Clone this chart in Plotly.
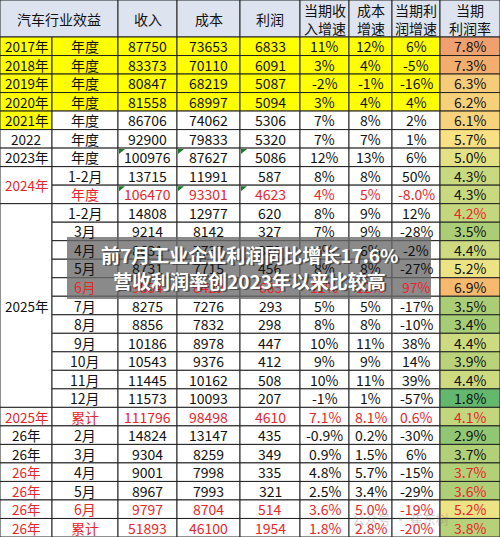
import plotly.graph_objects as go

headers = ["汽车行业效益", "收入", "成本", "利润", "当期收<br>入增速", "成本<br>增速", "当期利<br>润增速", "当期<br>利润率"]
year_labels = ["2017年", "2018年", "2019年", "2020年", "2021年", "2022", "2023年",
               "2024年", None, "2025年"] + [None]*10 + ["2025年", "26年", "26年", "26年", "26年", "26年", "26年"]
periods = ["年度"]*7 + ["1-2月", "年度", "1-2月", "3月", "4月", "5月", "6月", "7月", "8月", "9月", "10月", "11月", "12月",
           "累计", "2月", "3月", "4月", "5月", "6月", "累计"]
revenue = [87750, 83373, 80847, 81558, 86706, 92900, 100976, 13715, 106470, 14808, 9214, 8631, 8731, 9634,
           8275, 8856, 10186, 10543, 11445, 11573, 111796, 14824, 9304, 9001, 8967, 9797, 51893]
cost = [73653, 70110, 68219, 68997, 74062, 79833, 87627, 11991, 93301, 12977, 8142, 7737, 7715, 8429,
        7276, 7832, 8978, 9376, 10162, 10093, 98498, 13147, 8259, 7998, 7993, 8704, 46100]
profit = [6833, 6091, 5087, 5094, 5306, 5320, 5086, 587, 4623, 620, 327, 379, 456, 663,
          293, 298, 447, 412, 508, 207, 4610, 435, 349, 335, 321, 514, 1954]
rev_growth = ["11%", "3%", "-2%", "3%", "7%", "7%", "12%", "8%", "4%", "8%", "7%", "6%", "8%", "12%",
              "5%", "8%", "10%", "9%", "10%", "-1%", "7.1%", "-0.9%", "0.9%", "4.8%", "2.5%", "3.6%", "1.8%"]
cost_growth = ["12%", "4%", "-1%", "4%", "8%", "7%", "13%", "8%", "5%", "9%", "9%", "6%", "8%", "12%",
               "5%", "8%", "11%", "9%", "11%", "1%", "8.1%", "0.2%", "1.5%", "5.7%", "3.4%", "5.0%", "2.8%"]
profit_growth = ["6%", "-5%", "-16%", "4%", "2%", "1%", "6%", "50%", "-8.0%", "12%", "-28%", "-2%", "-27%", "97%",
                 "-17%", "-10%", "38%", "14%", "39%", "-57%", "0.6%", "-30%", "6%", "-15%", "-29%", "-19%", "-20%"]
margin = [7.8, 7.3, 6.3, 6.2, 6.1, 5.7, 5.0, 4.3, 4.3, 4.2, 3.5, 4.4, 5.2, 6.9, 3.5, 3.4, 4.4, 3.9, 4.4, 1.8,
          4.1, 2.9, 3.7, 3.7, 3.6, 5.2, 3.8]

RED = "#e8262a"
red_rows = {8, 13, 20, 25, 26}
red_label = {7, 8, 20, 23, 24, 25, 26}
red_margin = {9, 20, 23, 24, 25, 26}
yellow_rows = {0, 1, 2, 3}

xs = [0, 52, 118, 177, 240, 300, 349, 392, 440, 500]
H0 = 37
rh = (537 - H0) / 27

def mcolor(v):
    stops = [(1.8, (99, 184, 110)), (3.5, (170, 205, 118)), (4.4, (205, 218, 128)), (5.5, (248, 230, 135)),
             (6.9, (246, 185, 110)), (7.8, (240, 160, 110))]
    for (a, ca), (b, cb) in zip(stops, stops[1:]):
        if v <= b:
            t = max(0, (v - a) / (b - a))
            c = [round(ca[i] + (cb[i] - ca[i]) * t) for i in range(3)]
            return f"rgb({c[0]},{c[1]},{c[2]})"
    return f"rgb{stops[-1][1]}"

shapes, ann = [], []
FONT = "Noto Sans CJK SC"

def rect(x0, y0, x1, y1, fill, lw=1):
    shapes.append(dict(type="rect", x0=x0, y0=y0, x1=x1, y1=y1, fillcolor=fill,
                       line=dict(color="#222", width=lw), layer="below"))

def txt(x, y, s, color="#111", size=14, **kw):
    ann.append(dict(x=x, y=y, text=s, showarrow=False, font=dict(family=FONT, size=size, color=color), **kw))

rect(xs[0], 0, xs[2], H0, "#dde3ef")
for i in range(2, 9):
    rect(xs[i], 0, xs[i + 1], H0, "#dde3ef")
for i, h in enumerate(headers):
    x0, x1 = (xs[0], xs[2]) if i == 0 else (xs[i + 1], xs[i + 2])
    txt((x0 + x1) / 2, H0 / 2, h, size=14)

spans = {7: 2, 9: 11}
for r in range(27):
    y0, y1 = H0 + r * rh, H0 + (r + 1) * rh
    yc = (y0 + y1) / 2
    lab = year_labels[r]
    if lab is not None:
        n = spans.get(r, 1)
        fill = "#ffff00" if r <= 4 else "white"
        rect(xs[0], y0, xs[1], y0 + n * rh, fill)
        txt(26, (y0 + y0 + n * rh) / 2, lab, RED if r in red_label else "#111", size=13.5)
    rowfill = "#ffff00" if r in yellow_rows else "white"
    for c in range(1, 8):
        rect(xs[c], y0, xs[c + 1], y1, rowfill)
    rect(xs[8], y0, xs[9], y1, mcolor(margin[r]))
    col = RED if r in red_rows else "#111"
    vals = [periods[r], str(revenue[r]), str(cost[r]), str(profit[r]), rev_growth[r], cost_growth[r], profit_growth[r]]
    for c, v in enumerate(vals):
        txt((xs[c + 1] + xs[c + 2]) / 2, yc, v, col)
    txt((xs[8] + xs[9]) / 2, yc, f"{margin[r]:.1f}%", RED if r in red_margin else "#111")
    if r in (6, 8):
        for c in (2, 3, 4):
            shapes.append(dict(type="path", path=f"M {xs[c]+1},{y0+1} L {xs[c]+7},{y0+1} L {xs[c]+1},{y0+6} Z",
                               fillcolor="#1a7a2a", line=dict(width=0)))

shapes.append(dict(type="rect", x0=67, y0=237, x1=431, y1=299, fillcolor="rgba(105,105,105,0.78)",
                   line=dict(width=0), layer="above"))
for y, s in [(254, "前7月工业企业利润同比增长17.6%"), (280, "营收利润率创2023年以来比较高")]:
    txt(251, y + 1.5, f"<b>{s}</b>", "rgba(40,40,40,0.6)", size=19)
    txt(249, y, f"<b>{s}</b>", "white", size=19)
txt(400, 518, "公众号 · 崔东树", "rgba(120,120,120,0.35)", size=13)

fig = go.Figure()
fig.update_layout(width=500, height=537, margin=dict(l=0, r=0, t=0, b=0),
                  paper_bgcolor="white", plot_bgcolor="white", shapes=shapes, annotations=ann,
                  xaxis=dict(range=[0, 500], visible=False, fixedrange=True),
                  yaxis=dict(range=[537, 0], visible=False, fixedrange=True), showlegend=False)
fig.write_html("out.html", config={"displayModeBar": False},
               post_script="document.body.style.margin='0';document.body.style.overflow='hidden';")
